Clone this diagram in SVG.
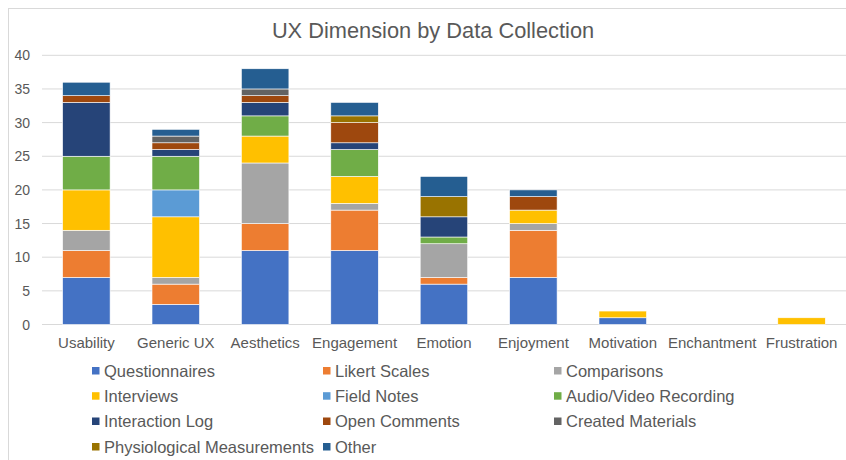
<svg xmlns="http://www.w3.org/2000/svg" width="846" height="460" viewBox="0 0 846 460">
<style>
text{font-family:"Liberation Sans",Arial,sans-serif;fill:#595959}
.grid{stroke:#D9D9D9;stroke-width:1}
.ax{font-size:14px;text-anchor:end}
.cat{font-size:15px;text-anchor:middle}
.leg{font-size:16.5px}
rect.s{stroke:#ffffff;stroke-width:0.6}
.q{fill:#4472C4}.l{fill:#ED7D31}.c{fill:#A5A5A5}.i{fill:#FFC000}.fn{fill:#5B9BD5}.av{fill:#70AD47}
.il{fill:#264478}.oc{fill:#9E480E}.cm{fill:#636363}.pm{fill:#997300}.ot{fill:#255E91}
</style>
<rect x="0" y="0" width="846" height="460" fill="#ffffff"/>
<rect id="chart-area" x="8.5" y="8.5" width="850" height="460" fill="#ffffff" stroke="#D9D9D9" stroke-width="1"/>
<text id="title" x="433" y="38" font-size="21.8" text-anchor="middle">UX Dimension by Data Collection</text>
<g id="gridlines">
<line class="grid" x1="42" y1="55.3" x2="846" y2="55.3"/>
<line class="grid" x1="42" y1="88.95" x2="846" y2="88.95"/>
<line class="grid" x1="42" y1="122.6" x2="846" y2="122.6"/>
<line class="grid" x1="42" y1="156.25" x2="846" y2="156.25"/>
<line class="grid" x1="42" y1="189.9" x2="846" y2="189.9"/>
<line class="grid" x1="42" y1="223.55" x2="846" y2="223.55"/>
<line class="grid" x1="42" y1="257.2" x2="846" y2="257.2"/>
<line class="grid" x1="42" y1="290.85" x2="846" y2="290.85"/>
<line class="grid" x1="42" y1="324.5" x2="846" y2="324.5"/>
</g>
<g id="y-axis">
<text class="ax" x="30" y="60.3">40</text>
<text class="ax" x="30" y="93.95">35</text>
<text class="ax" x="30" y="127.6">30</text>
<text class="ax" x="30" y="161.25">25</text>
<text class="ax" x="30" y="194.9">20</text>
<text class="ax" x="30" y="228.55">15</text>
<text class="ax" x="30" y="262.2">10</text>
<text class="ax" x="30" y="295.85">5</text>
<text class="ax" x="30" y="329.5">0</text>
</g>
<g id="bar-usability">
<rect class="s q" x="62.6" y="277.39" width="47.5" height="47.11"/>
<rect class="s l" x="62.6" y="250.47" width="47.5" height="26.92"/>
<rect class="s c" x="62.6" y="230.28" width="47.5" height="20.19"/>
<rect class="s i" x="62.6" y="189.9" width="47.5" height="40.38"/>
<rect class="s av" x="62.6" y="156.25" width="47.5" height="33.65"/>
<rect class="s il" x="62.6" y="102.41" width="47.5" height="53.84"/>
<rect class="s oc" x="62.6" y="95.68" width="47.5" height="6.73"/>
<rect class="s ot" x="62.6" y="82.22" width="47.5" height="13.46"/>
</g>
<g id="bar-generic-ux">
<rect class="s q" x="152" y="304.31" width="47.5" height="20.19"/>
<rect class="s l" x="152" y="284.12" width="47.5" height="20.19"/>
<rect class="s c" x="152" y="277.39" width="47.5" height="6.73"/>
<rect class="s i" x="152" y="216.82" width="47.5" height="60.57"/>
<rect class="s fn" x="152" y="189.9" width="47.5" height="26.92"/>
<rect class="s av" x="152" y="156.25" width="47.5" height="33.65"/>
<rect class="s il" x="152" y="149.52" width="47.5" height="6.73"/>
<rect class="s oc" x="152" y="142.79" width="47.5" height="6.73"/>
<rect class="s cm" x="152" y="136.06" width="47.5" height="6.73"/>
<rect class="s ot" x="152" y="129.33" width="47.5" height="6.73"/>
</g>
<g id="bar-aesthetics">
<rect class="s q" x="241.4" y="250.47" width="47.5" height="74.03"/>
<rect class="s l" x="241.4" y="223.55" width="47.5" height="26.92"/>
<rect class="s c" x="241.4" y="162.98" width="47.5" height="60.57"/>
<rect class="s i" x="241.4" y="136.06" width="47.5" height="26.92"/>
<rect class="s av" x="241.4" y="115.87" width="47.5" height="20.19"/>
<rect class="s il" x="241.4" y="102.41" width="47.5" height="13.46"/>
<rect class="s oc" x="241.4" y="95.68" width="47.5" height="6.73"/>
<rect class="s cm" x="241.4" y="88.95" width="47.5" height="6.73"/>
<rect class="s ot" x="241.4" y="68.76" width="47.5" height="20.19"/>
</g>
<g id="bar-engagement">
<rect class="s q" x="330.8" y="250.47" width="47.5" height="74.03"/>
<rect class="s l" x="330.8" y="210.09" width="47.5" height="40.38"/>
<rect class="s c" x="330.8" y="203.36" width="47.5" height="6.73"/>
<rect class="s i" x="330.8" y="176.44" width="47.5" height="26.92"/>
<rect class="s av" x="330.8" y="149.52" width="47.5" height="26.92"/>
<rect class="s il" x="330.8" y="142.79" width="47.5" height="6.73"/>
<rect class="s oc" x="330.8" y="122.6" width="47.5" height="20.19"/>
<rect class="s pm" x="330.8" y="115.87" width="47.5" height="6.73"/>
<rect class="s ot" x="330.8" y="102.41" width="47.5" height="13.46"/>
</g>
<g id="bar-emotion">
<rect class="s q" x="420.2" y="284.12" width="47.5" height="40.38"/>
<rect class="s l" x="420.2" y="277.39" width="47.5" height="6.73"/>
<rect class="s c" x="420.2" y="243.74" width="47.5" height="33.65"/>
<rect class="s av" x="420.2" y="237.01" width="47.5" height="6.73"/>
<rect class="s il" x="420.2" y="216.82" width="47.5" height="20.19"/>
<rect class="s pm" x="420.2" y="196.63" width="47.5" height="20.19"/>
<rect class="s ot" x="420.2" y="176.44" width="47.5" height="20.19"/>
</g>
<g id="bar-enjoyment">
<rect class="s q" x="509.6" y="277.39" width="47.5" height="47.11"/>
<rect class="s l" x="509.6" y="230.28" width="47.5" height="47.11"/>
<rect class="s c" x="509.6" y="223.55" width="47.5" height="6.73"/>
<rect class="s i" x="509.6" y="210.09" width="47.5" height="13.46"/>
<rect class="s oc" x="509.6" y="196.63" width="47.5" height="13.46"/>
<rect class="s ot" x="509.6" y="189.9" width="47.5" height="6.73"/>
</g>
<g id="bar-motivation">
<rect class="s q" x="599" y="317.77" width="47.5" height="6.73"/>
<rect class="s i" x="599" y="311.04" width="47.5" height="6.73"/>
</g>
<g id="bar-frustration">
<rect class="s i" x="777.8" y="317.77" width="47.5" height="6.73"/>
</g>
<g id="x-axis">
<text class="cat" x="86.4" y="348">Usability</text>
<text class="cat" x="175.8" y="348">Generic UX</text>
<text class="cat" x="265.2" y="348">Aesthetics</text>
<text class="cat" x="354.6" y="348">Engagement</text>
<text class="cat" x="444" y="348">Emotion</text>
<text class="cat" x="533.4" y="348">Enjoyment</text>
<text class="cat" x="622.8" y="348">Motivation</text>
<text class="cat" x="712.2" y="348">Enchantment</text>
<text class="cat" x="801.6" y="348">Frustration</text>
</g>
<g id="legend">
<rect class="q" x="92" y="367" width="7.5" height="7.5"/><text class="leg" x="104" y="376.5">Questionnaires</text>
<rect class="l" x="323" y="367" width="7.5" height="7.5"/><text class="leg" x="335" y="376.5">Likert Scales</text>
<rect class="c" x="554" y="367" width="7.5" height="7.5"/><text class="leg" x="566" y="376.5">Comparisons</text>
<rect class="i" x="92" y="392.2" width="7.5" height="7.5"/><text class="leg" x="104" y="401.7">Interviews</text>
<rect class="fn" x="323" y="392.2" width="7.5" height="7.5"/><text class="leg" x="335" y="401.7">Field Notes</text>
<rect class="av" x="554" y="392.2" width="7.5" height="7.5"/><text class="leg" x="566" y="401.7">Audio/Video Recording</text>
<rect class="il" x="92" y="417.5" width="7.5" height="7.5"/><text class="leg" x="104" y="427">Interaction Log</text>
<rect class="oc" x="323" y="417.5" width="7.5" height="7.5"/><text class="leg" x="335" y="427">Open Comments</text>
<rect class="cm" x="554" y="417.5" width="7.5" height="7.5"/><text class="leg" x="566" y="427">Created Materials</text>
<rect class="pm" x="92" y="443" width="7.5" height="7.5"/><text class="leg" x="104" y="452.5">Physiological Measurements</text>
<rect class="ot" x="323" y="443" width="7.5" height="7.5"/><text class="leg" x="335" y="452.5">Other</text>
</g>
</svg>
